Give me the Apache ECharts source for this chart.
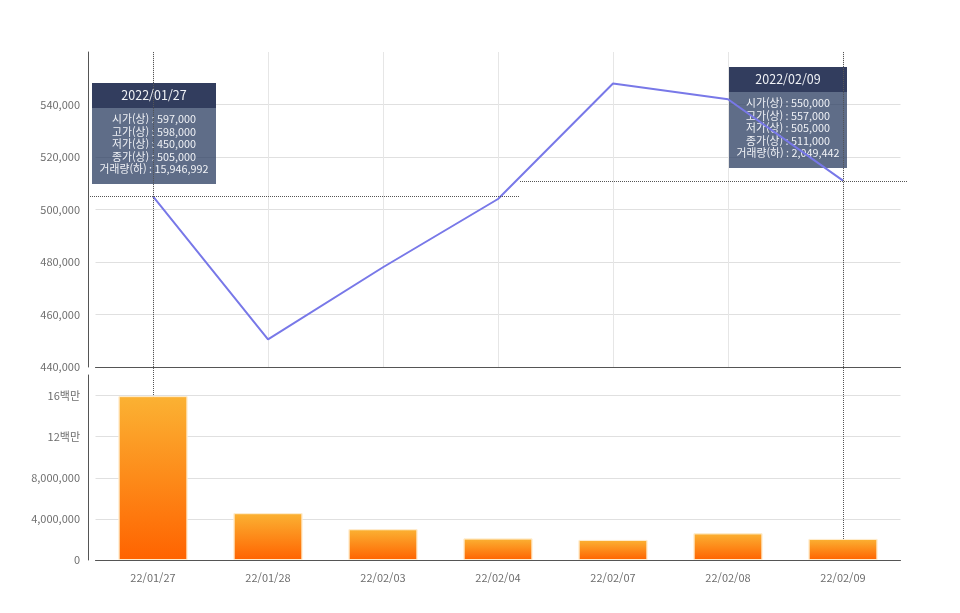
<!DOCTYPE html>
<html lang="ko">
<head>
    <meta charset="UTF-8">
    <title>주가 차트</title>
    <script src="https://cdn.jsdelivr.net/npm/echarts@6/dist/echarts.min.js"></script>
    <style>
        html, body { margin: 0; padding: 0; background: #fff; }
        #container { width: 960px; height: 613px; }
    </style>
</head>
<body>
<div id="container"></div>
<script>
    // 일자 / 종가(상) / 거래량(하)
    var dates = ['22/01/27', '22/01/28', '22/02/03', '22/02/04', '22/02/07', '22/02/08', '22/02/09'];
    var closes = [505000, 450500, 478000, 504000, 548000, 542000, 511000];
    var volumes = [15946992, 4560000, 3000000, 2100000, 1950000, 2600000, 2049442];

    // 고정 툴팁 두 개 (시가/고가/저가)
    var tipIndex = [0, 6];
    var tipOpen = [597000, 550000];
    var tipHigh = [598000, 557000];
    var tipLow = [450000, 505000];

    var priceTicks = [440000, 560000, 20000];
    var volumeTicks = [0, 18000000, 4000000];

    var FONT = '"Noto Sans CJK KR", "Noto Sans", sans-serif';
    var gridLeft = 95.5, gridRight = 59.5, yOffset = 7.5;

    var fmt = function (v) { return Number(v).toLocaleString('en-US'); };

    var dom = document.getElementById('container');
    var myChart = echarts.init(dom);

    var axisLineStyle = { show: true, lineStyle: { color: '#555', width: 1 } };
    var labelStyle = { color: '#6e6e6e', fontSize: 11, fontFamily: FONT };

    var option = {
        animation: false,
        textStyle: { fontFamily: FONT },
        grid: [
            { left: gridLeft, right: gridRight, top: 52, bottom: 246 },
            { left: gridLeft, right: gridRight, top: 375, bottom: 53 }
        ],
        xAxis: [
            {
                gridIndex: 0, type: 'category', data: dates, boundaryGap: true,
                axisLine: axisLineStyle, axisTick: { show: false }, axisLabel: { show: false },
                splitLine: { show: true, alignWithLabel: true, lineStyle: { color: '#e6e6e6' } }
            },
            {
                gridIndex: 1, type: 'category', data: dates, boundaryGap: true,
                axisLine: axisLineStyle, axisTick: { show: false },
                axisLabel: Object.assign({ margin: 12 }, labelStyle),
                splitLine: { show: false }
            }
        ],
        yAxis: [
            {
                gridIndex: 0, type: 'value', offset: yOffset,
                min: priceTicks[0], max: priceTicks[1], interval: priceTicks[2],
                axisLine: axisLineStyle, axisTick: { show: false },
                axisLabel: Object.assign({ showMaxLabel: false, formatter: fmt }, labelStyle),
                splitLine: { show: true, showMaxLine: false, lineStyle: { color: '#e0e0e0' } }
            },
            {
                gridIndex: 1, type: 'value', offset: yOffset,
                min: volumeTicks[0], max: volumeTicks[1], interval: volumeTicks[2],
                axisLine: axisLineStyle, axisTick: { show: false },
                axisLabel: Object.assign({
                    showMaxLabel: false,
                    formatter: function (v) {
                        return v >= 10000000 ? (v / 1000000) + '백만' : fmt(v);
                    }
                }, labelStyle),
                splitLine: { show: true, showMaxLine: false, lineStyle: { color: '#e0e0e0' } }
            }
        ],
        series: [
            {
                name: '종가(상)', type: 'line', xAxisIndex: 0, yAxisIndex: 0,
                data: closes, showSymbol: false, silent: true,
                lineStyle: { color: '#7878e8', width: 2 }
            },
            {
                name: '거래량(하)', type: 'bar', xAxisIndex: 1, yAxisIndex: 1,
                data: volumes, barWidth: 69, silent: true,
                itemStyle: {
                    color: new echarts.graphic.LinearGradient(0, 0, 0, 1, [
                        { offset: 0, color: '#fbb233' },
                        { offset: 1, color: '#ff6300' }
                    ]),
                    borderColor: 'rgba(255,236,205,0.9)',
                    borderWidth: 1
                }
            }
        ]
    };
    myChart.setOption(option);

    // 크로스헤어와 툴팁 박스는 축 좌표로 변환해서 그린다
    var topY = myChart.convertToPixel({ yAxisIndex: 0 }, priceTicks[1]);
    var axisX = gridLeft - yOffset;
    var rightX = 960 - gridRight + yOffset;
    var splitX = 520;
    var boxLayout = [
        { dx: -61, top: 83, w: 124 },
        { dx: -114, top: 67, w: 118 }
    ];
    var dotted = { stroke: '#555', lineWidth: 1, lineDash: [1, 1] };
    var graphics = [];

    tipIndex.forEach(function (idx, k) {
        var p = myChart.convertToPixel({ xAxisIndex: 0, yAxisIndex: 0 }, [dates[idx], closes[idx]]);
        var b = myChart.convertToPixel({ xAxisIndex: 1, yAxisIndex: 1 }, [dates[idx], volumes[idx]]);
        var x0 = k === 0 ? axisX : splitX;
        var x1 = k === 0 ? splitX : rightX;

        graphics.push({
            type: 'line', silent: true, z: 50,
            shape: { x1: Math.round(p[0]) + 0.5, y1: topY, x2: Math.round(p[0]) + 0.5, y2: b[1] },
            style: dotted
        });
        graphics.push({
            type: 'line', silent: true, z: 50,
            shape: { x1: x0, y1: Math.round(p[1]) + 0.5, x2: x1, y2: Math.round(p[1]) + 0.5 },
            style: dotted
        });

        var L = boxLayout[k];
        var left = Math.round(p[0] + L.dx);
        var body = [
            '시가(상) : ' + fmt(tipOpen[k]),
            '고가(상) : ' + fmt(tipHigh[k]),
            '저가(상) : ' + fmt(tipLow[k]),
            '종가(상) : ' + fmt(closes[idx]),
            '거래량(하) : ' + fmt(volumes[idx])
        ].join('\n');

        graphics.push({
            type: 'group', x: left, y: L.top, z: 100, silent: true,
            children: [
                { type: 'rect', shape: { x: 0, y: 0, width: L.w, height: 101 },
                  style: { fill: 'rgba(42,60,96,0.75)' } },
                { type: 'rect', shape: { x: 0, y: 0, width: L.w, height: 25 },
                  style: { fill: 'rgba(46,57,90,0.9)' } },
                { type: 'text', x: L.w / 2, y: 12.5,
                  style: { text: '20' + dates[idx], fill: '#f0f2f6', fontSize: 12.5,
                           fontFamily: FONT, align: 'center', verticalAlign: 'middle' } },
                { type: 'text', x: L.w / 2, y: 30,
                  style: { text: body, fill: '#f0f2f6', fontSize: 10.8, lineHeight: 12.4,
                           fontFamily: FONT, align: 'center', verticalAlign: 'top' } }
            ]
        });
    });

    myChart.setOption({ graphic: graphics });
</script>
</body>
</html>
